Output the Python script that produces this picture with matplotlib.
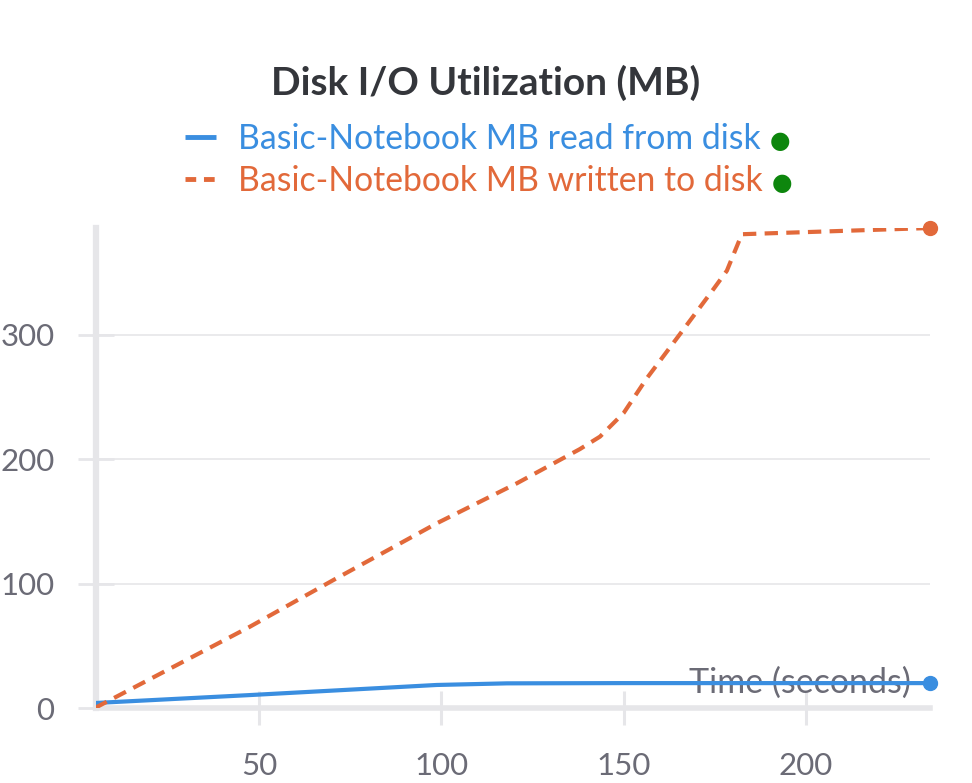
import numpy as np
import matplotlib.pyplot as plt

# values
time_read = [5, 47.6, 98.7, 118, 150, 234]
mb_read = [4, 10.4, 18.5, 19.8, 20.0, 20.0]

time_written = [5, 47.5, 70.4, 98.7, 120.7, 138, 143.5, 150, 156.3, 165.5, 174.6, 178.3, 182.4, 234]
mb_written = [0, 65.3, 102.8, 148.3, 180.5, 208, 218, 237, 264.7, 300.6, 336.4, 351.3, 380.6, 385.6]

yticks = [0, 100, 200, 300]
xticks = [50, 100, 150, 200]

blue = '#3a8ee0'
orange = '#e2693a'
green = '#0d860d'
grid_col = '#e6e6e9'
tick_col = '#6b6b76'

plt.rcParams['font.family'] = ['Lato', 'DejaVu Sans']

fig = plt.figure(figsize=(9.72, 7.83), dpi=100)
ax = fig.add_axes([96 / 972, 1 - 708 / 783, (930 - 96) / 972, (708 - 228) / 783])

ax.plot(time_read, mb_read, color=blue, lw=3, zorder=4,
        label='Basic-Notebook MB read from disk', solid_capstyle='butt')
ax.plot(time_written, mb_written, color=orange, lw=3, dashes=(3.2, 2.0), zorder=4,
        label='Basic-Notebook MB written to disk')
ax.plot(time_read[-1], mb_read[-1], 'o', color=blue, ms=10, clip_on=False, zorder=5)
ax.plot(time_written[-1], mb_written[-1], 'o', color=orange, ms=10, clip_on=False, zorder=5)

ax.set_xlim(5.3, 234)
ax.set_ylim(0, 385.6)
ax.set_xticks(xticks)
ax.set_yticks(yticks)
ax.grid(axis='y', color=grid_col, lw=1.2)
ax.set_axisbelow(True)

for s in ['top', 'right']:
    ax.spines[s].set_visible(False)
ax.spines['left'].set_color(grid_col)
ax.spines['left'].set_linewidth(4.5)
ax.spines['bottom'].set_color(grid_col)
ax.spines['bottom'].set_linewidth(4)

ax.tick_params(axis='x', direction='inout', length=24, width=2.2, color=grid_col,
               labelsize=22.5, labelcolor=tick_col, pad=20)
ax.tick_params(axis='y', direction='inout', length=26, width=2, color=grid_col,
               labelsize=22.5, labelcolor=tick_col, pad=17)

ax.text(0.977, 20, 'Time (seconds)', transform=ax.get_yaxis_transform(),
        ha='right', va='center', fontsize=24.5, color=tick_col, zorder=3)

fig.text(0.5, 1 - 83 / 783, 'Disk I/O Utilization (MB)', ha='center', va='center',
         fontsize=28, fontweight='bold', color='#34363b')

leg = ax.legend(loc='center', bbox_to_anchor=(0.5 - 12 / 972, 1 - 160 / 783),
                bbox_transform=fig.transFigure,
                frameon=False, fontsize=24.3, handlelength=0.9, handletextpad=0.65,
                labelspacing=0.3, labelcolor='linecolor')
for h in leg.get_lines():
    h.set_linewidth(3.5)
leg.get_lines()[1].set_dashes((2.2, 1.6))

fig.canvas.draw()
r = fig.canvas.get_renderer()
for t in leg.get_texts():
    bb = t.get_window_extent(r)
    fig.text((bb.x1 + 20) / 972, (bb.y0 + bb.y1) / 2 / 783 - 0.002, '●', color=green,
             fontsize=17, ha='center', va='center', family='DejaVu Sans')

fig.savefig('out.png', dpi=100)
